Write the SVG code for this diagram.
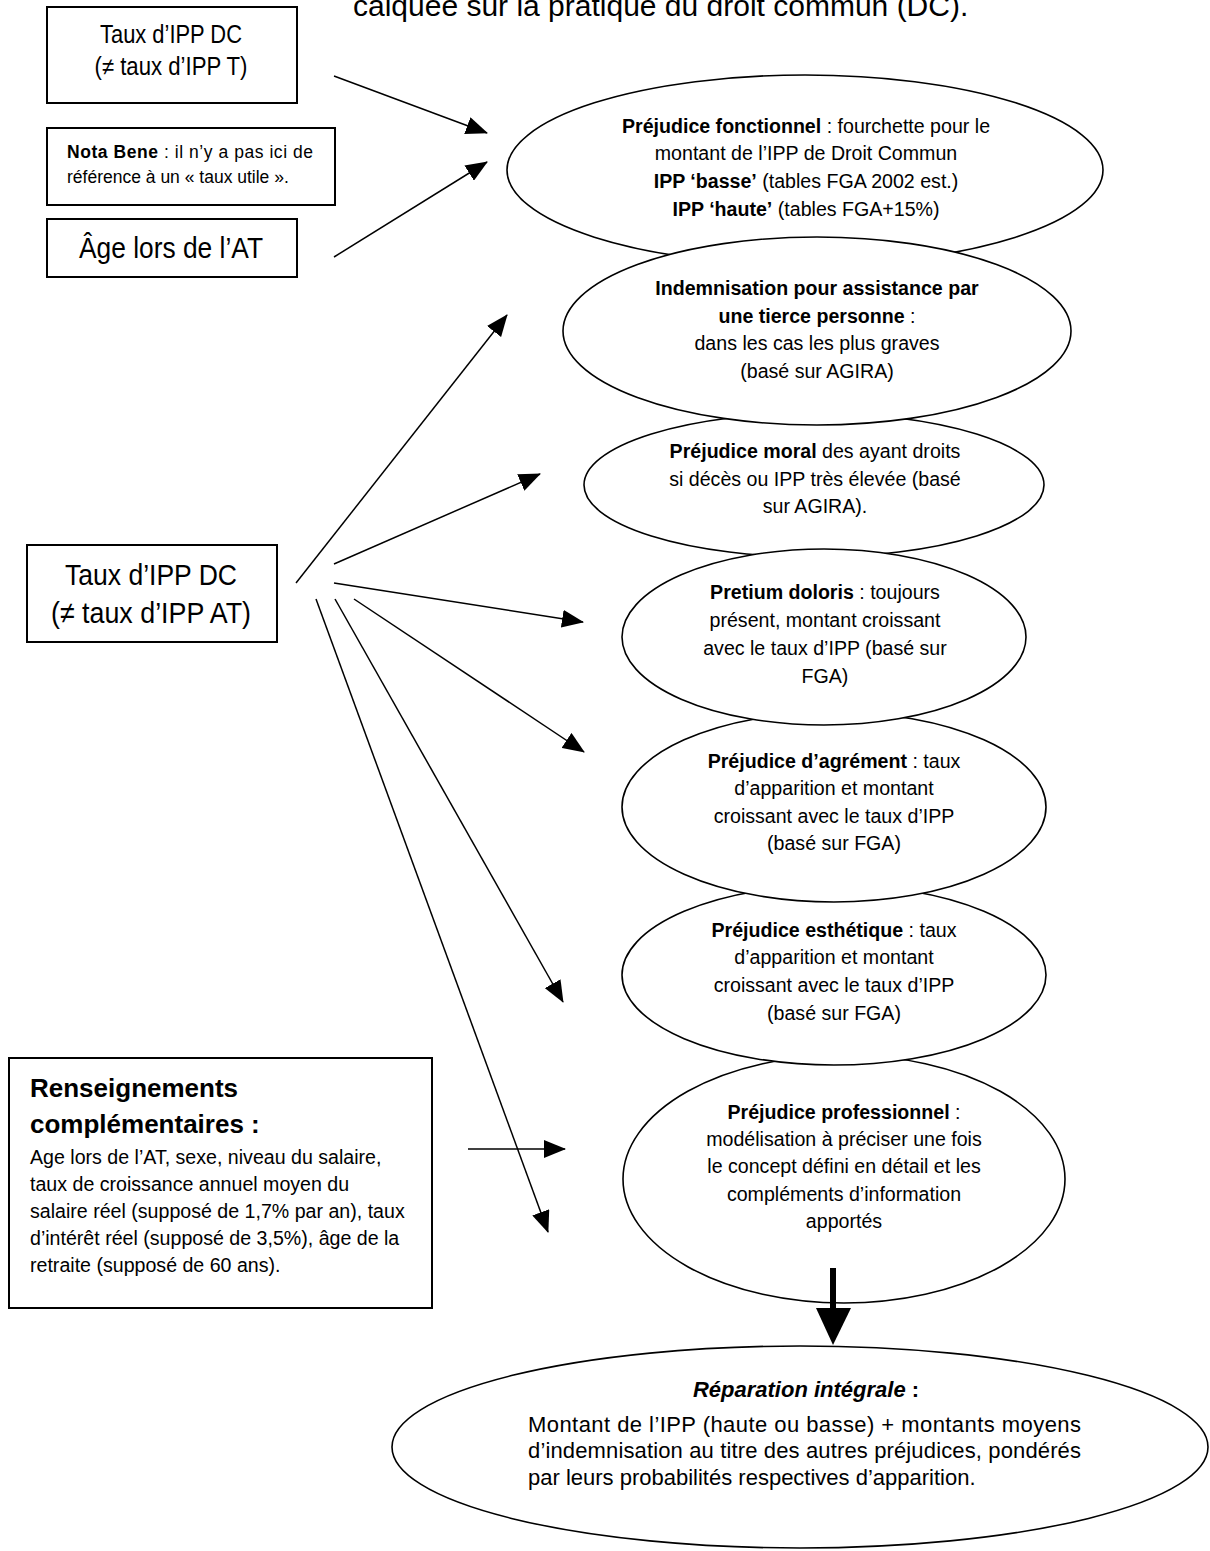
<svg xmlns="http://www.w3.org/2000/svg" width="1210" height="1551" viewBox="0 0 1210 1551">
<style>
.n{font-family:"Liberation Sans Narrow","Arial Narrow","Liberation Sans",Arial,sans-serif;fill:#000}
.r{font-family:"Liberation Sans",Arial,sans-serif;fill:#000}
.e{font-size:19.6px;text-anchor:middle}
.b{font-weight:bold}
.box{fill:#fff;stroke:#000;stroke-width:2}
.ell{fill:#fff;stroke:#000;stroke-width:1.6}
.c{stroke:#000;stroke-width:1.5;fill:none;marker-end:url(#ah)}
</style>
<defs>
<marker id="ah" markerUnits="userSpaceOnUse" markerWidth="22" markerHeight="18" refX="21" refY="9" orient="auto">
<path d="M0,0 L22,9 L0,18 Z" fill="#000"/>
</marker>
</defs>
<text class="n" x="353" y="16" font-size="30">calquée sur la pratique du droit commun (DC).</text>
<g id="box-taux-t">
<rect class="box" x="47" y="7" width="250" height="96"/>
<text class="n" x="171" y="43" font-size="25" text-anchor="middle" textLength="142" lengthAdjust="spacingAndGlyphs">Taux d’IPP DC</text>
<text class="n" x="171" y="75" font-size="25" text-anchor="middle" textLength="153" lengthAdjust="spacingAndGlyphs">(≠ taux d’IPP T)</text>
</g>
<g id="box-nota">
<rect class="box" x="47" y="128" width="288" height="77"/>
<text class="r" x="67" y="158" font-size="17.5" textLength="246" lengthAdjust="spacing"><tspan class="b">Nota Bene</tspan> : il n’y a pas ici de</text>
<text class="r" x="67" y="183" font-size="17.5">référence à un « taux utile ».</text>
</g>
<g id="box-age">
<rect class="box" x="47" y="219" width="250" height="58"/>
<text class="n" x="171" y="258" font-size="29" text-anchor="middle" textLength="184" lengthAdjust="spacingAndGlyphs">Âge lors de l’AT</text>
</g>
<g id="box-taux-at">
<rect class="box" x="27" y="545" width="250" height="97"/>
<text class="n" x="151" y="585" font-size="30" text-anchor="middle" textLength="172" lengthAdjust="spacingAndGlyphs">Taux d’IPP DC</text>
<text class="n" x="151" y="623" font-size="30" text-anchor="middle" textLength="200" lengthAdjust="spacingAndGlyphs">(≠ taux d’IPP AT)</text>
</g>
<g id="box-renseignements">
<rect class="box" x="9" y="1058" width="423" height="250"/>
<text class="r b" x="30" y="1097" font-size="26">Renseignements</text>
<text class="r b" x="30" y="1133" font-size="26">complémentaires :</text>
<text class="r" font-size="19.6">
<tspan x="30" y="1164">Age lors de l’AT, sexe, niveau du salaire,</tspan>
<tspan x="30" y="1191">taux de croissance annuel moyen du</tspan>
<tspan x="30" y="1218">salaire réel (supposé de 1,7% par an), taux</tspan>
<tspan x="30" y="1245">d’intérêt réel (supposé de 3,5%), âge de la</tspan>
<tspan x="30" y="1272">retraite (supposé de 60 ans).</tspan>
</text>
</g>
<g id="ell-fonctionnel">
<ellipse class="ell" cx="805" cy="170" rx="298" ry="95"/>
<text class="r e" x="806" y="133"><tspan class="b">Préjudice fonctionnel</tspan> : fourchette pour le</text>
<text class="r e" x="806" y="160">montant de l’IPP de Droit Commun</text>
<text class="r e" x="806" y="188"><tspan class="b">IPP ‘basse’</tspan> (tables FGA 2002 est.)</text>
<text class="r e" x="806" y="216"><tspan class="b">IPP ‘haute’</tspan> (tables FGA+15%)</text>
</g>
<g id="ell-moral">
<ellipse class="ell" cx="814" cy="485" rx="230" ry="72"/>
<text class="r e" x="815" y="458"><tspan class="b">Préjudice moral</tspan> des ayant droits</text>
<text class="r e" x="815" y="486">si décès ou IPP très élevée (basé</text>
<text class="r e" x="815" y="513">sur AGIRA).</text>
</g>
<g id="ell-tierce">
<ellipse class="ell" cx="817" cy="331" rx="254" ry="94"/>
<text class="r e b" x="817" y="295">Indemnisation pour assistance par</text>
<text class="r e" x="817" y="323"><tspan class="b">une tierce personne</tspan> :</text>
<text class="r e" x="817" y="350">dans les cas les plus graves</text>
<text class="r e" x="817" y="378">(basé sur AGIRA)</text>
</g>
<g id="ell-professionnel">
<ellipse class="ell" cx="844" cy="1179" rx="221" ry="124"/>
<text class="r e" x="844" y="1119"><tspan class="b">Préjudice professionnel</tspan> :</text>
<text class="r e" x="844" y="1146">modélisation à préciser une fois</text>
<text class="r e" x="844" y="1173">le concept défini en détail et les</text>
<text class="r e" x="844" y="1201">compléments d’information</text>
<text class="r e" x="844" y="1228">apportés</text>
</g>
<g id="ell-esthetique">
<ellipse class="ell" cx="834" cy="975" rx="212" ry="90"/>
<text class="r e" x="834" y="937"><tspan class="b">Préjudice esthétique</tspan> : taux</text>
<text class="r e" x="834" y="964">d’apparition et montant</text>
<text class="r e" x="834" y="992">croissant avec le taux d’IPP</text>
<text class="r e" x="834" y="1020">(basé sur FGA)</text>
</g>
<g id="ell-agrement">
<ellipse class="ell" cx="834" cy="807" rx="212" ry="95"/>
<text class="r e" x="834" y="768"><tspan class="b">Préjudice d’agrément</tspan> : taux</text>
<text class="r e" x="834" y="795">d’apparition et montant</text>
<text class="r e" x="834" y="823">croissant avec le taux d’IPP</text>
<text class="r e" x="834" y="850">(basé sur FGA)</text>
</g>
<g id="ell-pretium">
<ellipse class="ell" cx="824" cy="637" rx="202" ry="88"/>
<text class="r e" x="825" y="599"><tspan class="b">Pretium doloris</tspan> : toujours</text>
<text class="r e" x="825" y="627">présent, montant croissant</text>
<text class="r e" x="825" y="655">avec le taux d’IPP (basé sur</text>
<text class="r e" x="825" y="683">FGA)</text>
</g>
<g id="ell-reparation">
<ellipse class="ell" cx="800" cy="1447" rx="408" ry="101"/>
<text class="r b" x="806" y="1397" font-size="22" text-anchor="middle"><tspan font-style="italic">Réparation intégrale</tspan> :</text>
<text class="r" x="528" y="1432" font-size="22" textLength="553" lengthAdjust="spacing">Montant de l’IPP (haute ou basse) + montants moyens</text>
<text class="r" x="528" y="1458" font-size="22" textLength="553" lengthAdjust="spacing">d’indemnisation au titre des autres préjudices, pondérés</text>
<text class="r" x="528" y="1485" font-size="22">par leurs probabilités respectives d’apparition.</text>
</g>
<g id="connectors">
<line class="c" x1="334" y1="76" x2="487" y2="133"/>
<line class="c" x1="334" y1="257" x2="487" y2="162"/>
<line class="c" x1="296" y1="583" x2="507" y2="315"/>
<line class="c" x1="334" y1="564" x2="540" y2="474"/>
<line class="c" x1="334" y1="583" x2="583" y2="622"/>
<line class="c" x1="354" y1="599" x2="584" y2="752"/>
<line class="c" x1="335" y1="599" x2="563" y2="1002"/>
<line class="c" x1="316" y1="599" x2="548" y2="1232"/>
<line class="c" x1="468" y1="1149" x2="565" y2="1149"/>
<line x1="833" y1="1268" x2="833" y2="1310" stroke="#000" stroke-width="6"/>
<path d="M816,1308 L851,1308 L833,1345 Z" fill="#000"/>
</g>
</svg>
